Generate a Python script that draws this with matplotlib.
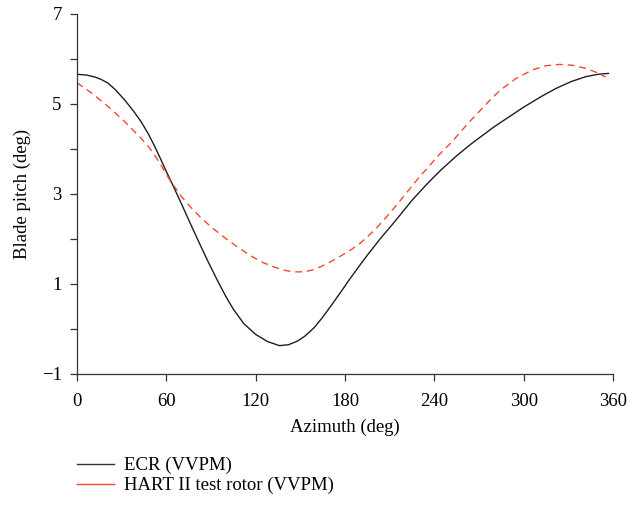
import matplotlib
matplotlib.use("Agg")
import matplotlib.pyplot as plt
from matplotlib.lines import Line2D

# ECR (VVPM)
ecr_az = [0, 6, 12, 16, 21, 26, 32, 38, 43, 48, 52, 56, 60, 66, 71, 77, 83, 88, 94, 100, 105,
          112, 120, 128, 136, 142, 148, 153, 159, 165, 172, 178, 183, 190, 195, 204, 212, 225,
          235, 244, 255, 265, 280, 290, 300, 312, 322, 332, 342, 350, 357]
ecr_val = [5.66, 5.645, 5.60, 5.55, 5.46, 5.31, 5.09, 4.84, 4.61, 4.33, 4.07, 3.79, 3.50, 3.08,
           2.72, 2.28, 1.85, 1.50, 1.10, 0.72, 0.44, 0.12, -0.12, -0.28, -0.37, -0.35, -0.27,
           -0.16, 0.02, 0.26, 0.58, 0.86, 1.10, 1.42, 1.64, 2.02, 2.33, 2.86, 3.22, 3.52, 3.85,
           4.12, 4.49, 4.71, 4.93, 5.17, 5.35, 5.50, 5.61, 5.66, 5.68]

# HART II test rotor (VVPM)
hart_az = [0, 10, 21, 32, 43, 49, 55, 62, 70, 76, 83, 90, 98, 107, 116, 124, 132, 140, 146,
           152, 158, 164, 170, 177, 184, 190, 200, 210, 217, 230, 244, 251, 264, 277, 284, 295,
           306, 315, 324, 333, 342, 349, 355]
hart_val = [5.47, 5.24, 4.94, 4.61, 4.24, 4.01, 3.72, 3.33, 2.95, 2.72, 2.48, 2.27, 2.06,
            1.84, 1.64, 1.49, 1.38, 1.30, 1.27, 1.27, 1.31, 1.39, 1.49, 1.62, 1.76, 1.90,
            2.20, 2.57, 2.85, 3.38, 3.90, 4.13, 4.62, 5.07, 5.30, 5.57, 5.76, 5.85, 5.88, 5.86,
            5.79, 5.70, 5.60]

x_ticks = [0, 60, 120, 180, 240, 300, 360]
y_major = [-1, 1, 3, 5, 7]
y_minor = [0, 2, 4, 6]

black = "#1e1e1e"
red = "#f04b2d"

plt.rcParams['font.family'] = ['Liberation Serif', 'DejaVu Serif']
fs = 13.5

fig = plt.figure(figsize=(6.29, 5.07), dpi=100)
ax = fig.add_axes([77/629, 1-374/507, (613-77)/629, (374-14)/507])

ax.plot(ecr_az, ecr_val, color=black, lw=1.0)
ax.plot(hart_az, hart_val, color=red, lw=1.0, dashes=(5, 3.5))

ax.set_xlim(0, 360)
ax.set_ylim(-1, 7)
ax.set_xticks(x_ticks)
ax.set_yticks(y_major)
ax.set_yticks(y_minor, minor=True)
ax.set_yticklabels(["\u22121", "1", "3", "5", "7"])
ax.tick_params(axis='both', which='both', direction='out', length=5, width=0.9,
               labelsize=fs, color='#333333')
ax.tick_params(axis='x', pad=9)
ax.tick_params(axis='y', pad=6)
for s in ['top', 'right']:
    ax.spines[s].set_visible(False)
for s in ['left', 'bottom']:
    ax.spines[s].set_linewidth(0.9)
    ax.spines[s].set_color('#333333')

ax.set_xlabel("Azimuth (deg)", fontsize=fs, labelpad=6)
ax.set_ylabel("Blade pitch (deg)", fontsize=fs, labelpad=8)

handles = [Line2D([], [], color='#333333', lw=1.0),
           Line2D([], [], color=red, lw=1.0)]
fig.legend(handles, ["ECR (VVPM)", "HART II test rotor (VVPM)"],
           loc='upper left', bbox_to_anchor=(77/629, 1-457/507), frameon=False,
           fontsize=fs, handlelength=1.95, handletextpad=0.55, labelspacing=0.15,
           borderaxespad=0, borderpad=0)

fig.savefig("out.png", dpi=100)
